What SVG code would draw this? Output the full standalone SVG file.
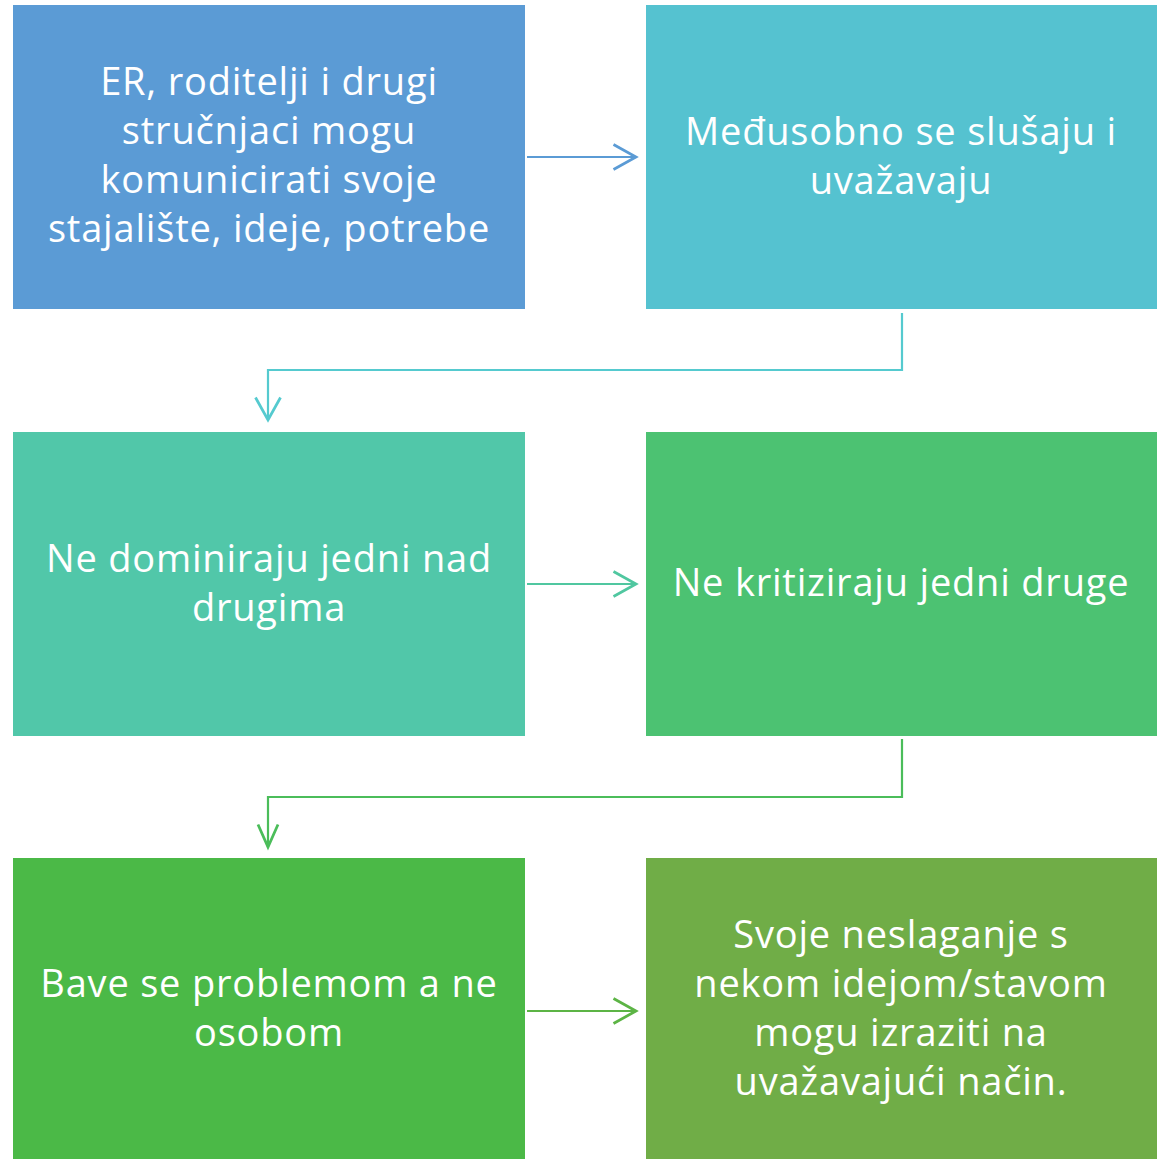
<svg xmlns="http://www.w3.org/2000/svg" width="1158" height="1159" viewBox="0 0 1158 1159">
<style>
.box text{font-family:"Open Sans","Liberation Sans",sans-serif;font-size:38px;letter-spacing:0.8px;fill:#fff;text-anchor:middle;font-variant-ligatures:none}
.c{fill:none;stroke-width:2.2}
</style>
<defs>
<marker id="a1" markerUnits="userSpaceOnUse" markerWidth="30" markerHeight="30" viewBox="-20 -12 22 24" refX="0" refY="0" orient="auto"><path d="M-18,-10 L0,0 L-18,10" fill="none" stroke="#5B9BD5" stroke-width="2.2"/></marker>
<marker id="a2" markerUnits="userSpaceOnUse" markerWidth="30" markerHeight="30" viewBox="-20 -12 22 24" refX="0" refY="0" orient="auto"><path d="M-18,-10 L0,0 L-18,10" fill="none" stroke="#55CACF" stroke-width="2.2"/></marker>
<marker id="a3" markerUnits="userSpaceOnUse" markerWidth="30" markerHeight="30" viewBox="-20 -12 22 24" refX="0" refY="0" orient="auto"><path d="M-18,-10 L0,0 L-18,10" fill="none" stroke="#50C7A0" stroke-width="2.2"/></marker>
<marker id="a4" markerUnits="userSpaceOnUse" markerWidth="30" markerHeight="30" viewBox="-20 -12 22 24" refX="0" refY="0" orient="auto"><path d="M-18,-8 L0,0 L-18,8" fill="none" stroke="#4BBD5A" stroke-width="2.2"/></marker>
<marker id="a5" markerUnits="userSpaceOnUse" markerWidth="30" markerHeight="30" viewBox="-20 -12 22 24" refX="0" refY="0" orient="auto"><path d="M-18,-10 L0,0 L-18,10" fill="none" stroke="#5CB445" stroke-width="2.2"/></marker>
</defs>
<rect width="1158" height="1159" fill="#fff"/>
<g id="connectors">
<path class="c" d="M527,157 H636" stroke="#5B9BD5" marker-end="url(#a1)"/>
<path class="c" d="M902,313 V370 H268 V420" stroke="#55CACF" marker-end="url(#a2)"/>
<path class="c" d="M527,584 H636" stroke="#50C7A0" marker-end="url(#a3)"/>
<path class="c" d="M902,739 V797 H268 V847" stroke="#4BBD5A" marker-end="url(#a4)"/>
<path class="c" d="M527,1011 H636" stroke="#5CB445" marker-end="url(#a5)"/>
</g>
<g id="n1" class="box">
<rect x="13" y="5" width="512" height="304" fill="#5B9BD5"/>
<text x="269" y="95">ER, roditelji i drugi</text>
<text x="269" y="144">stručnjaci mogu</text>
<text x="269" y="193">komunicirati svoje</text>
<text x="269" y="242">stajalište, ideje, potrebe</text>
</g>
<g id="n2" class="box">
<rect x="646" y="5" width="511" height="304" fill="#55C2D0"/>
<text x="901" y="145">Međusobno se slušaju i</text>
<text x="901" y="194">uvažavaju</text>
</g>
<g id="n3" class="box">
<rect x="13" y="432" width="512" height="304" fill="#51C7A9"/>
<text x="269" y="572">Ne dominiraju jedni nad</text>
<text x="269" y="621">drugima</text>
</g>
<g id="n4" class="box">
<rect x="646" y="432" width="511" height="304" fill="#4CC272"/>
<text x="901" y="596">Ne kritiziraju jedni druge</text>
</g>
<g id="n5" class="box">
<rect x="13" y="858" width="512" height="301" fill="#4BB947"/>
<text x="269" y="997">Bave se problemom a ne</text>
<text x="269" y="1046">osobom</text>
</g>
<g id="n6" class="box">
<rect x="646" y="858" width="511" height="301" fill="#70AD47"/>
<text x="901" y="948">Svoje neslaganje s</text>
<text x="901" y="997">nekom idejom/stavom</text>
<text x="901" y="1046">mogu izraziti na</text>
<text x="901" y="1095">uvažavajući način.</text>
</g>
</svg>
